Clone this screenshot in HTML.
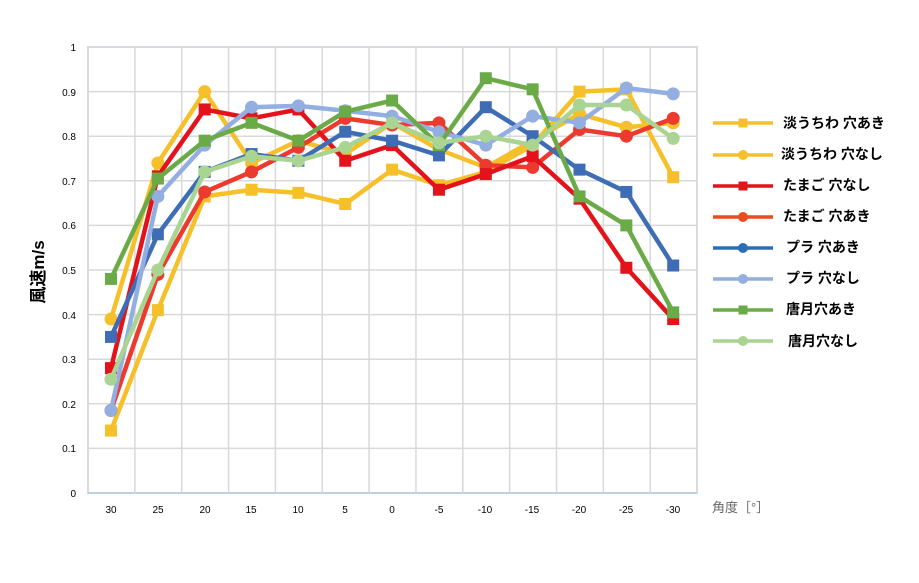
<!DOCTYPE html>
<html><head><meta charset="utf-8"><style>
body{margin:0;background:#fff;width:919px;height:578px;overflow:hidden;font-family:"Liberation Sans","Noto Sans CJK JP",sans-serif}
</style></head><body>
<svg id="s" width="919" height="578" xmlns="http://www.w3.org/2000/svg" font-family="Liberation Sans, Noto Sans CJK JP, sans-serif">
<rect x="88" y="47" width="609" height="446" fill="#fff" stroke="#a9c0d9" stroke-width="1.5"/>
<g id="grid" stroke="#d9d9d9" stroke-width="1.5"></g>
<g font-size="10" fill="#000" text-anchor="end">
<text x="76" y="497">0</text><text x="76" y="452">0.1</text><text x="76" y="408">0.2</text><text x="76" y="363">0.3</text><text x="76" y="319">0.4</text><text x="76" y="274">0.5</text><text x="76" y="229">0.6</text><text x="76" y="185">0.7</text><text x="76" y="140">0.8</text><text x="76" y="96">0.9</text><text x="76" y="51">1</text>
</g>
<g font-size="10" fill="#000" text-anchor="middle">
<text x="111" y="513">30</text><text x="158" y="513">25</text><text x="205" y="513">20</text><text x="251" y="513">15</text><text x="298" y="513">10</text><text x="345" y="513">5</text><text x="392" y="513">0</text><text x="439" y="513">-5</text><text x="485" y="513">-10</text><text x="532" y="513">-15</text><text x="579" y="513">-20</text><text x="626" y="513">-25</text><text x="673" y="513">-30</text>
</g>
<text x="712" y="512" font-size="13" fill="#666">角度［°］</text>
<text transform="translate(44,272) rotate(-90)" font-size="17" font-weight="bold" text-anchor="middle" fill="#000">風速m/s</text>
<g id="lines"></g>
<g font-size="14" font-weight="bold" fill="#000">
<text x="783" y="128">淡うちわ 穴あき</text>
<text x="781" y="159">淡うちわ 穴なし</text>
<text x="783" y="190">たまご 穴なし</text>
<text x="783" y="221">たまご 穴あき</text>
<text x="786" y="252">プラ 穴あき</text>
<text x="786" y="283">プラ 穴なし</text>
<text x="786" y="314">唐月穴あき</text>
<text x="788" y="346">唐月穴なし</text>
</g>
</svg>
<script>
var NS="http://www.w3.org/2000/svg";
function el(t,a,p){var e=document.createElementNS(NS,t);for(var k in a)e.setAttribute(k,a[k]);p.appendChild(e);return e;}
var g=document.getElementById('grid');
for(var i=1;i<=10;i++){var y=493-i*44.6;el('line',{x1:88,x2:697,y1:y,y2:y},g);}
for(var i=0;i<=13;i++){var x=88+i*46.85;el('line',{x1:x,x2:x,y1:47,y2:493},g);}
var S=[
['#f5c02a','sq',[0.14,0.41,0.665,0.68,0.673,0.648,0.725,0.69,0.72,0.78,0.90,0.905,0.708]],
['#f5c02a','ci',[0.39,0.74,0.90,0.74,0.79,0.76,0.83,0.77,0.73,0.79,0.85,0.82,0.83]],
['#ec3a2e','ci',[0.185,0.49,0.675,0.72,0.775,0.84,0.825,0.83,0.735,0.73,0.815,0.80,0.84]],
['#e3121b','sq',[0.28,0.71,0.86,0.84,0.86,0.745,0.78,0.68,0.715,0.755,0.66,0.505,0.39]],
['#3e6db5','sq',[0.35,0.58,0.72,0.76,0.745,0.81,0.79,0.757,0.865,0.80,0.725,0.675,0.51]],
['#93aee0','ci',[0.185,0.665,0.78,0.865,0.868,0.857,0.845,0.81,0.78,0.845,0.83,0.908,0.895]],
['#6aab48','sq',[0.48,0.705,0.79,0.83,0.79,0.855,0.88,0.78,0.93,0.905,0.665,0.60,0.405]],
['#a9d491','ci',[0.255,0.50,0.72,0.755,0.745,0.775,0.83,0.785,0.80,0.78,0.87,0.87,0.795]]];
var L=document.getElementById('lines');
var lg=[['#f5c02a','sq',123],['#f5c02a','ci',155],['#e3121b','sq',186],['#ec4a20','ci',217],['#2c6db5','ci',248],['#93aee0','ci',279],['#6aab48','sq',310],['#a9d491','ci',341]];
function mk(c,t,x,y,r,p){if(t=='sq')el('rect',{x:x-r,y:y-r,width:2*r,height:2*r,fill:c},p);else el('circle',{cx:x,cy:y,r:r+0.5,fill:c},p);}
S.forEach(function(s){var pts=s[2].map(function(v,i){return [111+i*46.85,493-v*446];});
el('polyline',{points:pts.map(function(p){return p.join(',')}).join(' '),fill:'none',stroke:s[0],'stroke-width':4.5,'stroke-linejoin':'round'},L);
pts.forEach(function(p){mk(s[0],s[1],p[0],p[1],6,L);});});
lg.forEach(function(l){el('line',{x1:713,x2:773,y1:l[2],y2:l[2],stroke:l[0],'stroke-width':3.5},L);mk(l[0],l[1],743,l[2],4.5,L);});
</script>
</body></html>
